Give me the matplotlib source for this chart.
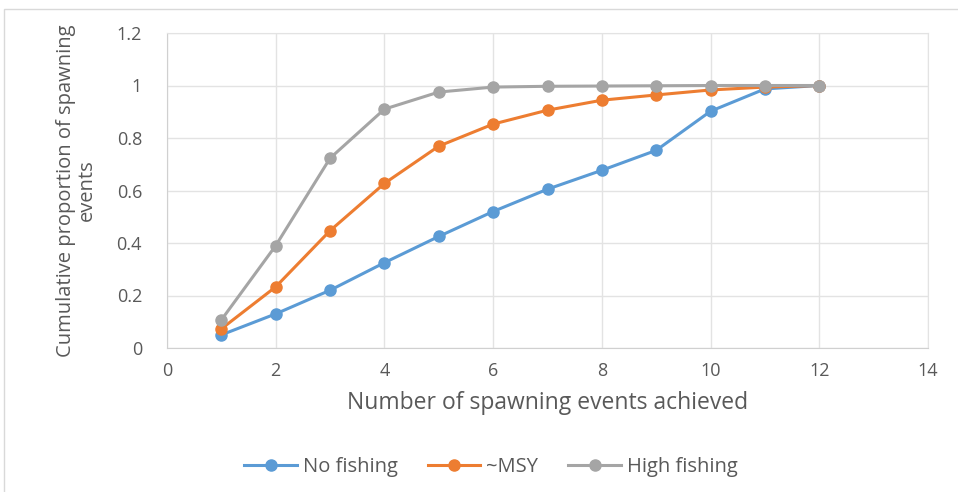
import matplotlib
matplotlib.use("Agg")
import matplotlib.pyplot as plt
from matplotlib.patches import Rectangle

x = [1, 2, 3, 4, 5, 6, 7, 8, 9, 10, 11, 12]
no_fishing = [0.05, 0.13, 0.22, 0.325, 0.425, 0.52, 0.605, 0.677, 0.753, 0.902, 0.987, 1.0]
msy = [0.073, 0.233, 0.447, 0.627, 0.769, 0.853, 0.906, 0.944, 0.964, 0.983, 0.994, 1.0]
high_fishing = [0.107, 0.39, 0.723, 0.91, 0.975, 0.994, 0.997, 0.998, 0.999, 1.0, 1.0, 1.0]
series_names = ["No fishing", "~MSY", "High fishing"]
colors = ["#5B9BD5", "#ED7D31", "#A5A5A5"]

plt.rcParams['font.family'] = ['Open Sans', 'DejaVu Sans']

fig = plt.figure(figsize=(9.58, 4.92), dpi=100)
fig.patches.append(Rectangle((4/958, -0.05), 1.1, 1 - 9/492 + 0.05, transform=fig.transFigure,
                             fill=False, edgecolor="#D9D9D9", linewidth=1.0))
ax = fig.add_axes([167/958, 1 - 348/492, (928 - 167)/958, (348 - 33)/492])

for ys, name, c in zip([no_fishing, msy, high_fishing], series_names, colors):
    ax.plot(x, ys, color=c, linewidth=2.2, marker='o', markersize=8, label=name, zorder=3)

ax.set_xlim(0, 14)
ax.set_ylim(0, 1.2)
ax.set_xticks(range(0, 15, 2))
ax.set_yticks([0, 0.2, 0.4, 0.6, 0.8, 1.0, 1.2])
ax.set_yticklabels(["0", "0.2", "0.4", "0.6", "0.8", "1", "1.2"])
ax.grid(True, color="#E3E3E3", linewidth=1.0)
ax.set_axisbelow(True)
for s in ["top", "right"]:
    ax.spines[s].set_color("#E3E3E3")
for s in ["left", "bottom"]:
    ax.spines[s].set_color("#D0D0D0")
ax.tick_params(length=0, labelsize=13, colors="#595959")
ax.tick_params(axis='y', pad=18)
ax.tick_params(axis='x', pad=10)

ax.set_xlabel("Number of spawning events achieved", fontsize=16.5, color="#595959", labelpad=8)
ax.set_ylabel("Cumulative proportion of spawning\nevents", fontsize=14.5, color="#595959", labelpad=14,
              linespacing=1.1)

fig.legend(loc="center", bbox_to_anchor=(491/958, 1 - 467/492), ncol=3, frameon=False,
           fontsize=14.5, labelcolor="#595959", handlelength=2.6, columnspacing=1.5, handletextpad=0.3)

fig.savefig("out.png", dpi=100)
